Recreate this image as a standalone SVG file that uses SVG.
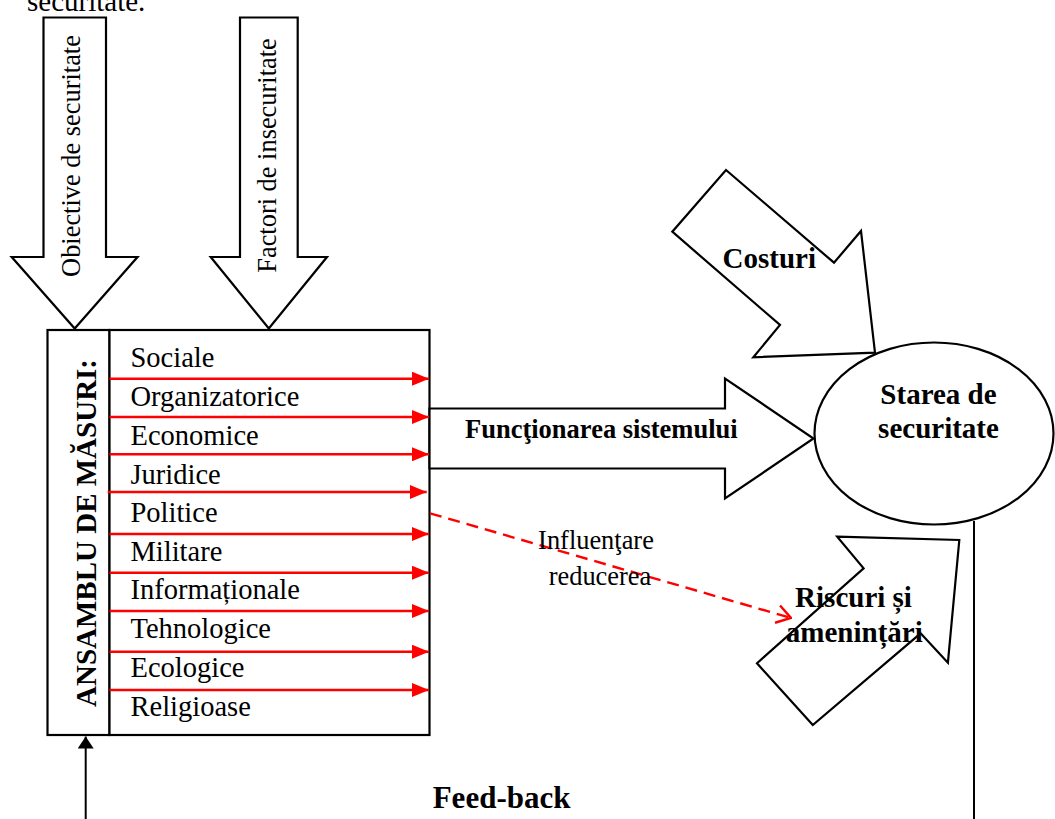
<svg xmlns="http://www.w3.org/2000/svg" width="1055" height="819" viewBox="0 0 1055 819">
<style>
.t{font-family:"Liberation Serif","Times New Roman",serif;fill:#000}
.b{font-weight:bold}
.sh{fill:#fff;stroke:#000;stroke-width:2.2;stroke-linejoin:miter}
.red{stroke:#f00;stroke-width:2.4;fill:none}
.blk{stroke:#000;stroke-width:2;fill:none}
</style>
<defs>
<marker id="rh" markerUnits="userSpaceOnUse" viewBox="0 0 17 14" refX="17" refY="7" markerWidth="17" markerHeight="14" orient="auto">
<path d="M0,0 L17,7 L0,14 z" fill="#f00"/>
</marker>
<marker id="rv" markerUnits="userSpaceOnUse" viewBox="0 0 16 20" refX="15" refY="10" markerWidth="16" markerHeight="20" orient="auto">
<path d="M1,1 L15,10 L1,19" fill="none" stroke="#f00" stroke-width="2.4"/>
</marker>
<marker id="bh" markerUnits="userSpaceOnUse" viewBox="0 0 12 16" refX="12" refY="8" markerWidth="12" markerHeight="16" orient="auto">
<path d="M0,0 L12,8 L0,16 z" fill="#000"/>
</marker>
</defs>

<text class="t" x="27" y="11" font-size="29">securitate.</text>

<g id="obiective">
<polygon class="sh" points="43.5,17.5 106,17.5 106,257 137.5,257 74.7,328.5 11.7,257 43.5,257"/>
<text class="t" font-size="26.4" text-anchor="middle" transform="translate(80,156) rotate(-90)">Obiective de securitate</text>
</g>

<g id="factori">
<polygon class="sh" points="240,17.5 297.7,17.5 297.7,257 327,257 268.8,328.5 210.7,257 240,257"/>
<text class="t" font-size="26.4" text-anchor="middle" transform="translate(276,155.5) rotate(-90)">Factori de insecuritate</text>
</g>

<g id="ansamblu">
<rect class="sh" x="47.5" y="330" width="62" height="405"/>
<text class="t b" font-size="29" text-anchor="middle" transform="translate(96,533) rotate(-90)">ANSAMBLU DE MĂSURI:</text>
</g>

<g id="masuri">
<rect class="sh" x="109.5" y="330" width="320" height="405"/>
<g class="t" font-size="28.5">
<text x="130.5" y="366.7">Sociale</text>
<text x="130.5" y="406">Organizatorice</text>
<text x="130.5" y="445">Economice</text>
<text x="130.5" y="483.5">Juridice</text>
<text x="130.5" y="522">Politice</text>
<text x="130.5" y="560.5">Militare</text>
<text x="130.5" y="599">Informaționale</text>
<text x="130.5" y="638">Tehnologice</text>
<text x="130.5" y="677">Ecologice</text>
<text x="130.5" y="716">Religioase</text>
</g>
</g>

<g id="functionarea">
<polygon class="sh" points="429.5,408.5 725,408.5 725,378.5 813.5,438.5 725,498.5 725,468.5 429.5,468.5"/>
<text class="t b" font-size="26.5" x="465" y="437.5">Funcţionarea sistemului</text>
</g>

<g id="costuri">
<polygon class="sh" points="726,170 834,262.7 861,231 875,352.7 753.3,357.3 780,325 672.3,231.7"/>
<text class="t b" font-size="29" x="722.5" y="268.3">Costuri</text>
</g>

<g id="starea">
<ellipse class="sh" cx="934" cy="433.5" rx="119.5" ry="91"/>
<text class="t b" font-size="29" text-anchor="middle" x="938.5" y="404">Starea de</text>
<text class="t b" font-size="29" text-anchor="middle" x="938.5" y="438.3">securitate</text>
</g>

<g id="riscuri">
<polygon class="sh" points="837.2,536.7 959.3,540 947.9,662.7 920.6,633.3 812.8,725 757,663.3 863.6,568.3"/>
<text class="t b" font-size="29" text-anchor="middle" x="853.5" y="607.3">Riscuri și</text>
<text class="t b" font-size="29" text-anchor="middle" x="854.3" y="641.7">amenințări</text>
</g>

<g id="connectors">
<line class="red" x1="109.5" y1="378.7" x2="429" y2="378.7" marker-end="url(#rh)"/>
<line class="red" x1="109.5" y1="417" x2="429" y2="417" marker-end="url(#rh)"/>
<line class="red" x1="109.5" y1="454.3" x2="429" y2="454.3" marker-end="url(#rh)"/>
<line class="red" x1="107.7" y1="492" x2="426.7" y2="492" marker-end="url(#rh)"/>
<line class="red" x1="109.5" y1="534" x2="429" y2="534" marker-end="url(#rh)"/>
<line class="red" x1="109.5" y1="572.7" x2="429" y2="572.7" marker-end="url(#rh)"/>
<line class="red" x1="109.5" y1="611" x2="429" y2="611" marker-end="url(#rh)"/>
<line class="red" x1="109.5" y1="651.7" x2="429" y2="651.7" marker-end="url(#rh)"/>
<line class="red" x1="109.5" y1="690" x2="429" y2="690" marker-end="url(#rh)"/>
<line class="red" x1="430" y1="513.3" x2="791" y2="618" stroke-dasharray="12,7" marker-end="url(#rv)"/>
<line class="blk" x1="974" y1="521" x2="974" y2="819"/>
<line class="blk" x1="85.7" y1="819" x2="85.7" y2="736.5" marker-end="url(#bh)"/>
</g>

<text class="t" font-size="26.4" text-anchor="middle" x="596" y="549">Influenţare</text>
<text class="t" font-size="26.4" text-anchor="middle" x="600" y="585">reducerea</text>
<text class="t b" font-size="31" x="432.7" y="807.7">Feed-back</text>
</svg>
